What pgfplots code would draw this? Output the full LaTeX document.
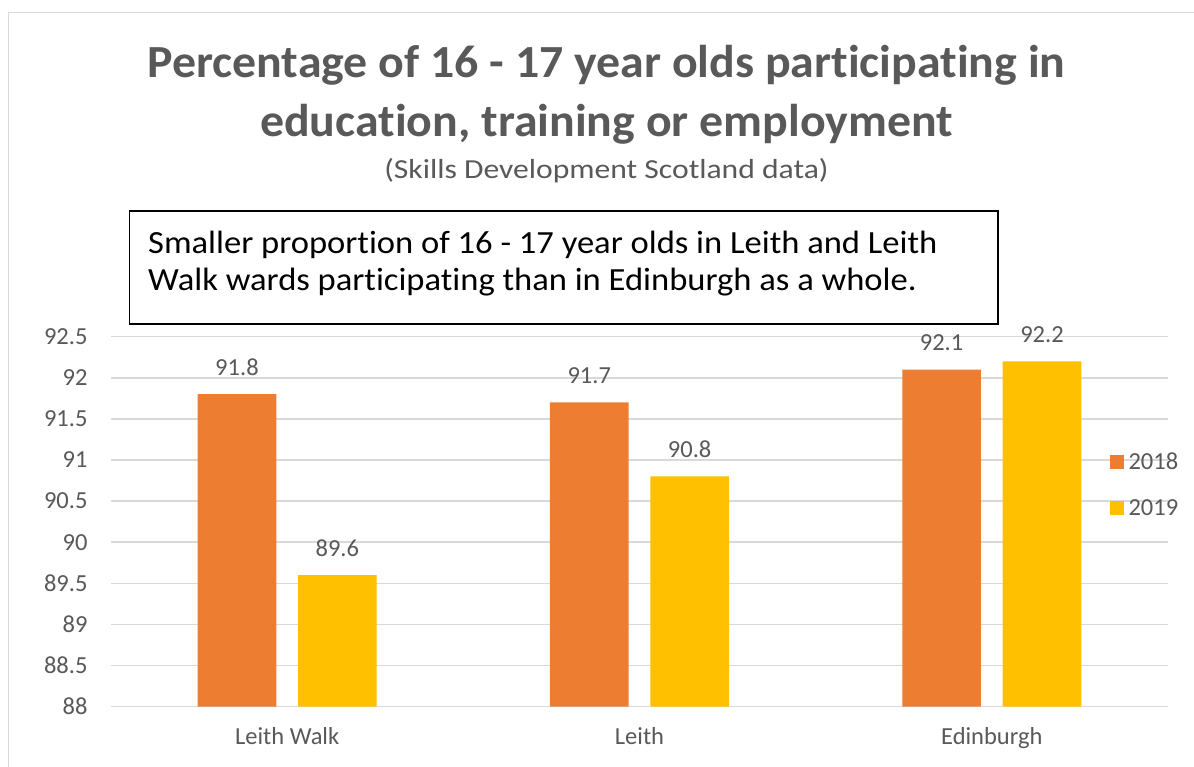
\documentclass[border=0pt]{standalone}
\usepackage{fontspec}
\setmainfont{Carlito}[Ligatures=NoCommon]
\newfontfamily\titlefont[FakeStretch=1.04,Ligatures=NoCommon]{Carlito}
\newfontfamily\subfont[FakeStretch=1.15,Ligatures=NoCommon]{Carlito}
\newfontfamily\boxfont[FakeStretch=1.07,Ligatures=NoCommon]{Carlito}
\usepackage{pgfplots}
\pgfplotsset{compat=1.18}
\definecolor{c2018}{HTML}{ED7D31}
\definecolor{c2019}{HTML}{FFC000}
\definecolor{txtgray}{HTML}{595959}
\definecolor{gridgray}{HTML}{D9D9D9}

\begin{document}
\begin{tikzpicture}[x=1pt,y=1pt]
\useasboundingbox (0,0) rectangle (1194,767);
\fill[white] (0,0) rectangle (1194,767);
\draw[gridgray, line width=1.5pt] (8.3,0) -- (8.3,754.3) -- (1194,754.3);
\node[anchor=base, font=\titlefont\fontsize{46}{50}\selectfont\bfseries, text=txtgray, inner sep=0pt] at (606.5,689.3) {Percentage of 16 - 17 year olds participating in};
\node[anchor=base, font=\titlefont\fontsize{46}{50}\selectfont\bfseries, text=txtgray, inner sep=0pt] at (606.5,630) {education, training or employment};
\node[anchor=base, font=\subfont\fontsize{27.5}{30}\selectfont, text=txtgray, inner sep=0pt] at (606.5,588) {(Skills Development Scotland data)};
\draw[black, line width=1.5pt] (129.3,443) rectangle (998,556);
\node[anchor=base west, font=\boxfont\fontsize{32.3}{36}\selectfont, inner sep=0pt] at (148,513.7) {Smaller proportion of 16 - 17 year olds in Leith and Leith};
\node[anchor=base west, font=\boxfont\fontsize{32.3}{36}\selectfont, inner sep=0pt] at (148,476.3) {Walk wards participating than in Edinburgh as a whole.};

\begin{axis}[
  at={(111pt,60.3pt)}, anchor=south west,
  scale only axis, width=1057pt, height=370pt,
  xmin=-0.5, xmax=2.5, ymin=88, ymax=92.5,
  ytick={88,88.5,89,89.5,90,90.5,91,91.5,92,92.5},
  xtick={0,1,2}, xticklabels={Leith Walk,Leith,Edinburgh},
  ymajorgrids, grid style={gridgray, line width=1.5pt},
  axis line style={draw=none},
  major tick length=0pt,
  tick label style={font=\fontsize{24.5}{28}\selectfont, text=txtgray},
  /pgf/number format/assume math mode=true,
  yticklabel style={anchor=east, inner sep=0pt, xshift=-23.3pt},
  xticklabel style={anchor=base, inner sep=0pt, yshift=-38.3pt},
  ybar=21.7pt, bar width=78.7pt,
  nodes near coords,
  every node near coord/.append style={font=\fontsize{24.5}{28}\selectfont, text=txtgray, anchor=south, yshift=18.3pt, inner sep=0pt},
  legend style={draw=none, fill=none, at={(0.945,0.599)}, anchor=west, inner sep=0pt, font=\fontsize{24.5}{28}\selectfont, text=txtgray, row sep=23pt, column sep=2pt, nodes={inner sep=2.5pt}},
  legend cell align=left,
  legend image code/.code={\fill[#1] (0pt,-7pt) rectangle (14pt,7pt);},
]
\addplot[fill=c2018, draw=none] coordinates {(0,91.8) (1,91.7) (2,92.1)};
\addplot[fill=c2019, draw=none] coordinates {(0,89.6) (1,90.8) (2,92.2)};
\legend{2018,2019}
\end{axis}
\end{tikzpicture}
\end{document}
